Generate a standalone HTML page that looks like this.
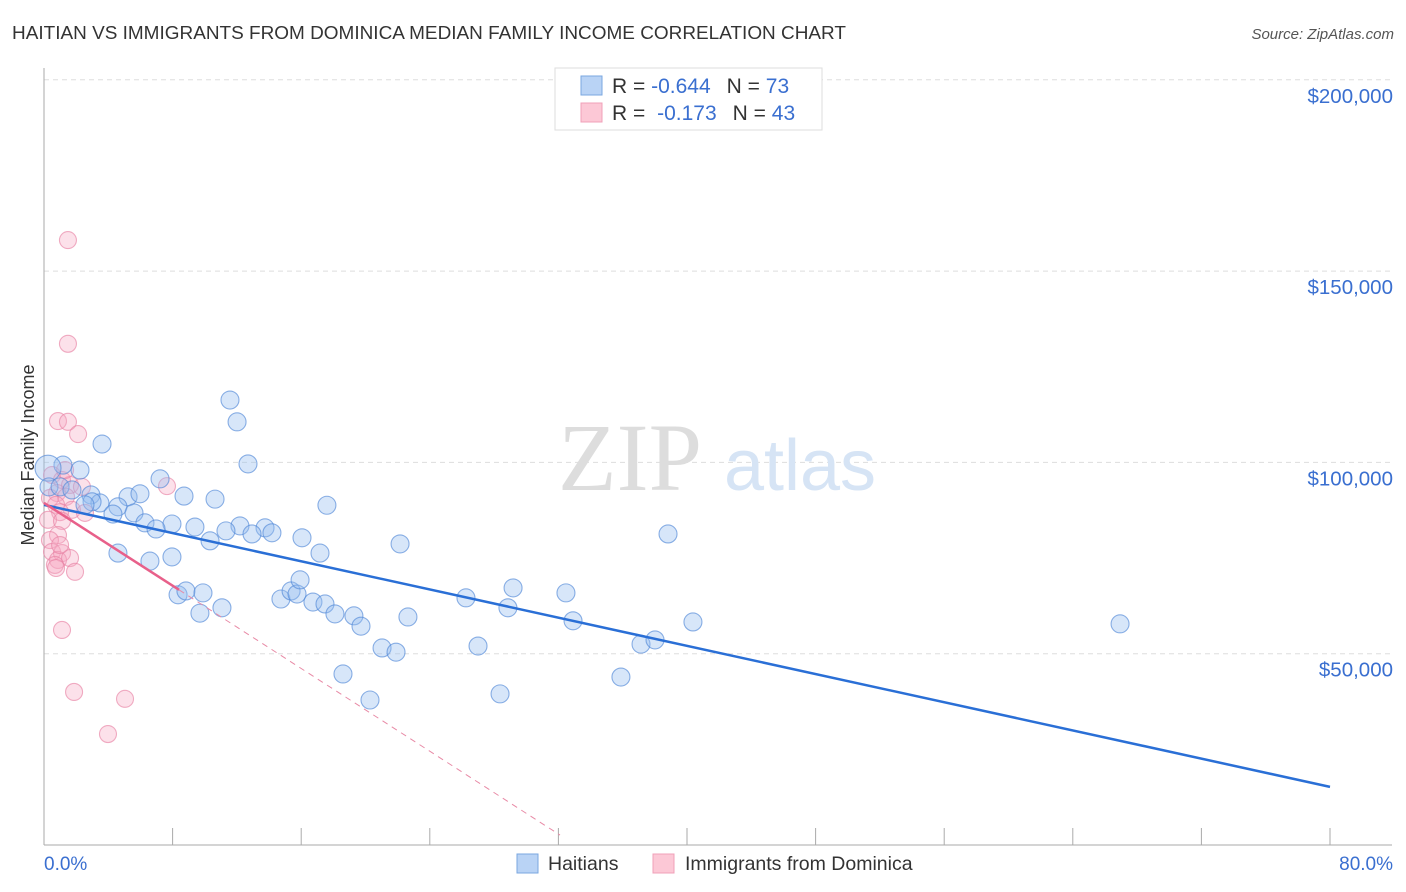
<!DOCTYPE html>
<html><head><meta charset="utf-8"><style>
body{margin:0;background:#fff;font-family:"Liberation Sans",sans-serif}
svg{display:block}
</style></head><body>
<svg id="chart" width="1406" height="892">
<text x="12" y="39" font-size="18" fill="#333" textLength="834" lengthAdjust="spacingAndGlyphs">HAITIAN VS IMMIGRANTS FROM DOMINICA MEDIAN FAMILY INCOME CORRELATION CHART</text>
<text x="1394" y="39" font-size="15" fill="#555" font-style="italic" text-anchor="end">Source: ZipAtlas.com</text>
<g id="grid"></g>
<text x="630" y="490" font-size="96" font-family="Liberation Serif" fill="#ddd" text-anchor="middle">ZIP</text>
<text x="800" y="490" font-size="72" fill="#d6e4f5" text-anchor="middle">atlas</text>
<g id="axes"></g>
<g id="pts"></g>
<g id="lines"></g>
<text x="34" y="455" font-size="18" fill="#333" text-anchor="middle" transform="rotate(-90 34 455)">Median Family Income</text>
<g>
<rect x="555" y="68" width="267" height="62" fill="#fff" stroke="#ddd"/>
<rect x="581" y="76" width="21" height="19" fill="#b9d3f5" stroke="#7aa7e0"/>
<rect x="581" y="103" width="21" height="19" fill="#fcc8d6" stroke="#f0a0b8"/>
<text x="612" y="93" font-size="21" fill="#333">R = <tspan fill="#3a6fd0">-0.644</tspan><tspan dx="16">N = </tspan><tspan fill="#3a6fd0">73</tspan></text>
<text x="612" y="120" font-size="21" fill="#333">R = <tspan fill="#3a6fd0" dx="6">-0.173</tspan><tspan dx="16">N = </tspan><tspan fill="#3a6fd0">43</tspan></text>
</g>
<g>
<rect x="517" y="854" width="21" height="19" fill="#b9d3f5" stroke="#7aa7e0"/>
<text x="548" y="870" font-size="19.5" fill="#333">Haitians</text>
<rect x="653" y="854" width="21" height="19" fill="#fcc8d6" stroke="#f0a0b8"/>
<text x="685" y="870" font-size="19.5" fill="#333">Immigrants from Dominica</text>
</g>
</svg>
<script>
const yTicks=[50000,100000,150000,200000];
const yTickLabels=["$50,000","$100,000","$150,000","$200,000"];
const xTickLabels=["0.0%","80.0%"];
const blueX=[3.61,2.24,1.18,0.25,0.31,7.22,2.92,5.23,5.97,8.71,10.64,17.6,3.48,2.99,4.6,4.29,5.6,6.28,7.96,6.97,9.39,12.19,11.32,13.75,12.94,14.18,10.33,16.05,17.17,4.6,6.59,7.96,22.15,11.57,12.01,12.69,38.82,8.34,8.83,9.89,11.07,9.7,14.74,15.37,15.74,15.93,16.73,17.48,18.1,19.28,19.72,21.03,21.9,22.64,26.25,27.0,28.86,29.18,32.47,32.91,37.14,38.01,40.37,35.89,28.37,20.28,18.6,66.94,1.0,1.74,2.55];
const blueY=[104800,98000,99300,98500,93600,95700,91500,91000,91800,91200,90400,88800,89400,89700,88400,86500,86800,84200,83900,82600,83100,83400,82100,82900,81300,81600,79500,80300,76300,76300,74200,75300,78700,116300,110600,99600,81300,65400,66400,65900,62000,60600,64300,66400,65600,69300,63500,63000,60400,59900,57200,51500,50400,59600,64600,52000,62000,67200,65900,58600,52500,53600,58300,43900,39500,37900,44700,57800,93600,92800,88900];
const pinkX=[1.49,1.49,0.87,1.49,2.12,0.5,1.12,1.62,2.36,0.81,1.37,0.37,0.75,1.74,1.0,2.55,0.25,1.12,0.87,0.37,0.5,1.12,0.87,1.62,0.68,1.93,0.75,1.12,1.87,5.04,3.98,7.65,1.31,1.0];
const pinkY=[158100,131000,110800,110600,107400,96700,95400,94100,93600,92000,91000,90700,88900,87600,87000,86800,85000,84700,81000,79700,76600,76300,74500,75000,73200,71400,72400,56200,40000,38200,29000,93800,98000,78400];
const blueTrend=[88900,15200];
const pinkTrend=[89400,2600,32.1,8.4];
const NS="http://www.w3.org/2000/svg";
const X=v=>44+v*1286/80, Y=v=>845-v*191.3/50000;
function mk(p,t,a){const e=document.createElementNS(NS,t);for(const k in a)e.setAttribute(k,a[k]);document.getElementById(p).appendChild(e);return e;}
yTicks.forEach((t,i)=>{
 const l=mk('grid','line',{x1:44,x2:1392,y1:Y(t),y2:Y(t),stroke:'#ddd','stroke-dasharray':'5,4'});
 
 
 const tx=mk('axes','text',{x:1393,y:Y(t)+23,'font-size':20.5,fill:'#3a6fd0','text-anchor':'end'});
 tx.textContent=yTickLabels[i];
 
 
});
mk('axes','line',{x1:44,x2:44,y1:68,y2:845,stroke:'#aaa'});
mk('axes','line',{x1:44,x2:1392,y1:845,y2:845,stroke:'#aaa'});
for(let i=0;i<=10;i++){const xx=X(i*8);const tk=mk('axes','line',{x1:xx,x2:xx,y1:828,y2:845,stroke:'#aaa'});
 
 }
const x0=mk('axes','text',{x:44,y:870,'font-size':19,fill:'#3a6fd0'});x0.textContent=xTickLabels[0];


const x1=mk('axes','text',{x:1393,y:870,'font-size':19,fill:'#3a6fd0','text-anchor':'end'});x1.textContent=xTickLabels[1];


pinkX.forEach((v,i)=>{const c=mk('pts','circle',{cx:X(v),cy:Y(pinkY[i]),r:8.5,fill:'rgba(245,170,195,0.35)',stroke:'rgba(232,130,165,0.65)','stroke-width':1.1});
 
 });
blueX.forEach((v,i)=>{const c=mk('pts','circle',{cx:X(v),cy:Y(blueY[i]),r:(i==3?13:9),fill:'rgba(150,190,240,0.38)',stroke:'rgba(80,135,215,0.65)','stroke-width':1.1});
 
 });
const bl=mk('lines','line',{x1:X(0),y1:Y(blueTrend[0]),x2:X(80),y2:Y(blueTrend[1]),stroke:'#2a6fd6','stroke-width':2.5});


const pf=x=>pinkTrend[0]+(pinkTrend[1]-pinkTrend[0])*x/pinkTrend[2];
const pd=mk('lines','line',{x1:X(pinkTrend[3]),y1:Y(pf(pinkTrend[3])),x2:X(pinkTrend[2]),y2:Y(pinkTrend[1]),stroke:'#e88aa6','stroke-width':1,'stroke-dasharray':'6,5'});


const pl=mk('lines','line',{x1:X(0),y1:Y(pinkTrend[0]),x2:X(pinkTrend[3]),y2:Y(pf(pinkTrend[3])),stroke:'#e8608a','stroke-width':2.5});


</script>
</body></html>
